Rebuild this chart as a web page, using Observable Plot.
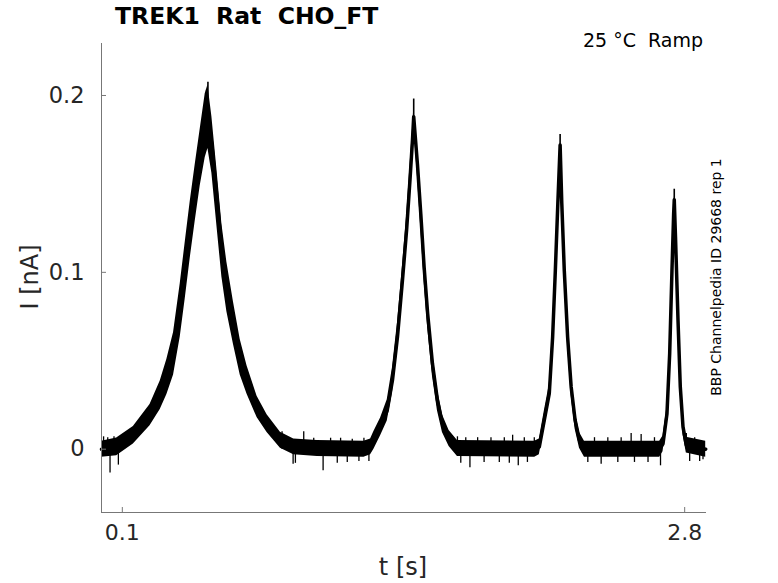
<!DOCTYPE html>
<html><head><meta charset="utf-8">
<script src="https://cdn.jsdelivr.net/npm/d3@7"></script>
<script src="https://cdn.jsdelivr.net/npm/@observablehq/plot@0.6"></script>
<style>
body{margin:0;background:#fff;font-family:"DejaVu Sans",sans-serif;}
#wrap{position:relative;width:778px;height:583px;overflow:hidden;}
.lbl{position:absolute;white-space:pre;line-height:1;}
</style></head><body>
<div id="wrap"></div>
<script>
// Trace (center of the noisy band)
const time = [0.000,0.073,0.153,0.233,0.282,0.314,0.346,0.378,0.402,0.426,0.450,0.474,0.498,0.511,0.530,0.554,0.578,0.602,0.634,0.666,0.699,0.747,0.795,0.859,0.923,1.036,
  1.260,1.292,1.308,1.340,1.372,1.397,1.421,1.445,1.465,1.481,1.493,1.499,1.517,1.533,1.549,1.566,1.589,1.613,1.637,1.669,1.709,
  2.080,2.102,2.126,2.150,2.166,2.179,2.191,2.199,2.202,2.210,2.222,2.238,2.255,2.274,2.295,2.319,
  2.680,2.696,2.715,2.728,2.739,2.747,2.750,2.756,2.768,2.779,2.792,2.808,2.901];
const current = [0.000,0.0013,0.0079,0.0192,0.0305,0.0409,0.054,0.0785,0.101,0.124,0.145,0.165,0.183,0.188,0.172,0.1425,0.1124,0.0917,0.071,0.052,0.039,0.0239,0.0145,0.0051,0.0013,0.0004,
  0.000,0.0013,0.005,0.0126,0.022,0.039,0.0634,0.0955,0.124,0.152,0.1746,0.188,0.161,0.133,0.103,0.0767,0.0484,0.0277,0.0145,0.006,0.0004,
  0.000,0.0013,0.0164,0.0315,0.0634,0.101,0.139,0.163,0.172,0.139,0.101,0.0634,0.0352,0.0164,0.005,0.000,
  0.000,0.003,0.020,0.054,0.101,0.133,0.141,0.120,0.0729,0.0352,0.0126,0.0023,0.000];
// Half-height of the noise band around the trace
const spread = [0.0045,0.005,0.005,0.006,0.008,0.010,0.012,0.015,0.016,0.016,0.016,0.016,0.018,0.018,0.016,0.016,0.015,0.014,0.012,0.010,0.008,0.006,0.005,0.0045,0.0045,0.0045,
  0.0045,0.0045,0.005,0.005,0.006,0.007,0.008,0.008,0.008,0.008,0.006,0.004,0.007,0.008,0.008,0.008,0.007,0.006,0.005,0.0045,0.0045,
  0.0045,0.0045,0.005,0.005,0.005,0.005,0.004,0.003,0.002,0.004,0.005,0.005,0.005,0.005,0.0045,0.0045,
  0.0045,0.0045,0.004,0.004,0.004,0.003,0.002,0.003,0.004,0.004,0.0045,0.0045,0.0045];
// Isolated noise spikes on the baseline
const spikeTime  = [0.010,0.030,0.041,0.060,0.081,0.110,0.867,0.920,0.931,0.971,1.019,1.064,1.100,1.132,1.148,1.180,1.204,1.236,1.260,1.284,
  1.709,1.725,1.749,1.769,1.806,1.837,1.870,1.910,1.934,1.958,1.974,2.001,2.030,2.045,2.078,
  2.335,2.367,2.399,2.431,2.479,2.495,2.543,2.559,2.591,2.624,2.655,2.684,2.808,2.824,2.848,2.872,2.888];
const spikeValue = [0.0070,0.0065,-0.0134,0.0070,-0.0090,0.0070,0.0098,-0.0085,-0.0080,0.0098,0.0062,-0.0122,0.0062,-0.0080,0.0062,-0.0075,0.0056,-0.0070,0.0062,-0.0070,
  0.0070,-0.0080,0.0065,-0.0105,0.0065,-0.0075,0.0065,-0.0075,0.0065,-0.0080,0.0079,-0.0094,0.0065,-0.0075,0.0065,
  -0.0075,0.0065,-0.0085,0.0065,-0.0075,0.0065,0.0089,-0.0075,0.0083,-0.0075,0.0065,-0.0094,0.0089,-0.0070,0.0065,-0.0070,-0.0060];
// Peak tips
const peakTime = [0.505,0.511,1.499,2.202,2.750];
const peakBase = [0.180,0.185,0.180,0.160,0.130];
const peakTop  = [0.203,0.2075,0.198,0.178,0.147];

const xTicks = [0.1, 2.8];
const yTicks = [0, 0.1, 0.2];

const rows = time.map((t, k) => ({t, i: current[k], lo: current[k] - spread[k], hi: current[k] + spread[k]}));
const spikes = spikeTime.map((t, k) => ({t, v: spikeValue[k]}));
const peaks = peakTime.map((t, k) => ({t, b: peakBase[k], v: peakTop[k]}));

const axisColor = "#777";
const textColor = "#262626";

const chart = Plot.plot({
  width: 778, height: 583,
  marginLeft: 101, marginRight: 73, marginTop: 43, marginBottom: 71,
  style: {fontFamily: "DejaVu Sans", background: "white", overflow: "visible"},
  x: {domain: [0, 2.9]},
  y: {domain: [-0.0358, 0.2294]},
  marks: [
    Plot.areaY(rows, {x: "t", y1: "lo", y2: "hi", fill: "black"}),
    Plot.line(rows, {x: "t", y: "i", stroke: "black", strokeWidth: 3.5, strokeLinejoin: "round"}),
    Plot.ruleX(spikes, {x: "t", y1: 0, y2: "v", stroke: "black", strokeWidth: 1.3}),
    Plot.ruleX(peaks, {x: "t", y1: "b", y2: "v", stroke: "black", strokeWidth: 1.6}),
    Plot.frame({anchor: "left", stroke: axisColor}),
    Plot.frame({anchor: "bottom", stroke: axisColor}),
    Plot.axisY({ticks: yTicks, tickSize: -5, fill: "none", stroke: axisColor, label: null}),
    Plot.axisY({ticks: yTicks, tickSize: 0, tickPadding: 17, fontSize: 22.5, fill: textColor, label: null, tickFormat: d => String(d)}),
    Plot.axisX({ticks: xTicks, tickSize: -5, fill: "none", stroke: axisColor, label: null}),
    Plot.axisX({ticks: xTicks, tickSize: 0, tickPadding: 12, fontSize: 22, fill: textColor, label: null, tickFormat: d => String(d)})
  ]
});

const wrap = document.getElementById("wrap");
wrap.appendChild(chart);

function addLabel(text, css) {
  const d = document.createElement("div");
  d.className = "lbl";
  d.textContent = text;
  Object.assign(d.style, css);
  wrap.appendChild(d);
}
addLabel("TREK1  Rat  CHO_FT", {left: "115px", top: "5px", fontSize: "23.5px", fontWeight: "bold", color: "#000"});
addLabel("25 °C  Ramp", {right: "75px", top: "31px", fontSize: "19px", color: "#000"});
addLabel("t [s]", {left: "403px", top: "567px", fontSize: "24px", color: textColor, transform: "translate(-50%,-50%)"});
addLabel("I [nA]", {left: "30px", top: "277px", fontSize: "24px", color: textColor, transform: "translate(-50%,-50%) rotate(-90deg)"});
addLabel("BBP Channelpedia ID 29668 rep 1", {left: "716px", top: "277px", fontSize: "14px", color: "#000", transform: "translate(-50%,-50%) rotate(-90deg)"});
</script>
</body></html>
